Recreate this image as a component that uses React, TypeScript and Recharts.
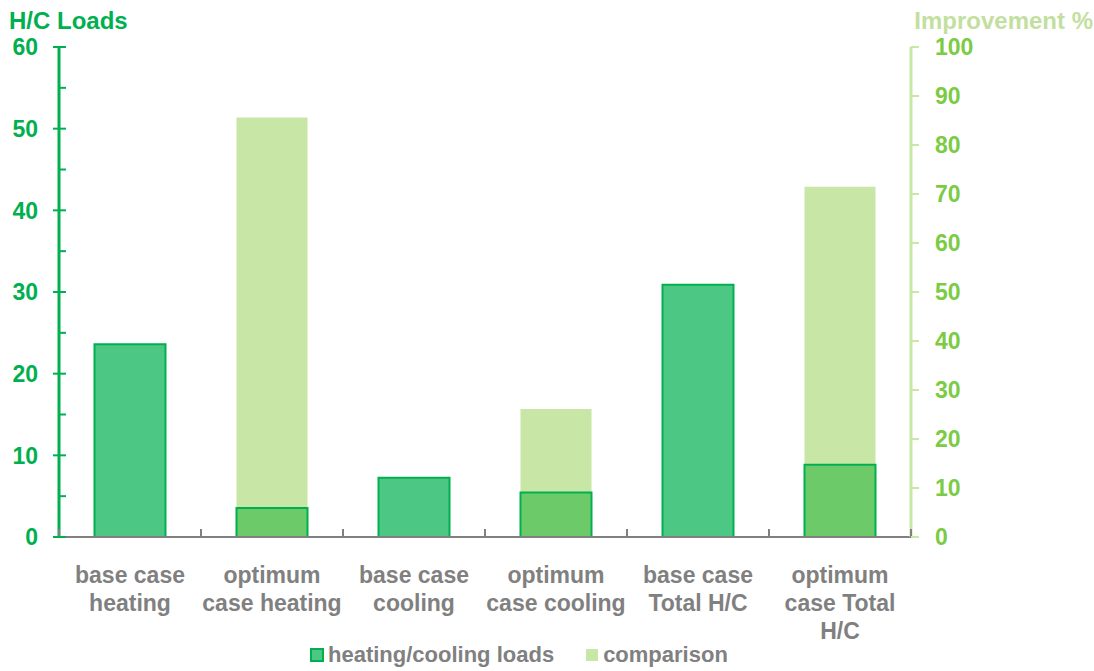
import React from "react";
import { ComposedChart, Bar, XAxis, YAxis, Cell, Legend } from "recharts";

const categories = [
  "base case heating",
  "optimum case heating",
  "base case cooling",
  "optimum case cooling",
  "base case Total H/C",
  "optimum case Total H/C",
];
const categoryLines = [
  ["base case", "heating"],
  ["optimum", "case heating"],
  ["base case", "cooling"],
  ["optimum", "case cooling"],
  ["base case", "Total H/C"],
  ["optimum", "case Total", "H/C"],
];
const caseTypes = ["base", "optimum", "base", "optimum", "base", "optimum"];
const loads = [23.6, 3.55, 7.25, 5.45, 30.9, 8.85];
const comparison = [null, 85.6, null, 26.1, null, 71.5];
const leftTicks = [0, 5, 10, 15, 20, 25, 30, 35, 40, 45, 50, 55, 60];
const rightTicks = [0, 10, 20, 30, 40, 50, 60, 70, 80, 90, 100];

const data = categories.map((c, i) => ({
  category: c,
  loads: loads[i],
  comparison: comparison[i],
}));

const FONT = "'Liberation Sans', Arial, sans-serif";
const GREEN = "#00B050";
const BASE_FILL = "#4CC784";
const OPT_FILL = "#6CCB68";
const COMP_FILL = "#C8E6A5";
const RIGHT_TEXT = "#7CCB45";
const TITLE_RIGHT = "#C3DFA0";
const GRAY = "#808080";

const W = 1094;
const H = 671;
const LEFT_W = 59;
const RIGHT_W = 183;
const PLOT_W = W - LEFT_W - RIGHT_W;
const BAND = PLOT_W / categories.length;

const LeftTick = (props: any) => {
  const { x, y, payload } = props;
  const v = payload.value;
  if (v % 10 === 0) {
    return (
      <g>
        <line x1={x - 6} x2={x + 7} y1={y} y2={y} stroke={GREEN} strokeWidth={2} />
        <text x={x - 21} y={y} dy="0.36em" textAnchor="end" fill={GREEN}
          style={{ fontFamily: FONT, fontWeight: 700, fontSize: 23 }}>{v}</text>
      </g>
    );
  }
  return <line x1={x} x2={x + 7} y1={y} y2={y} stroke={GREEN} strokeWidth={2} />;
};

const RightTick = (props: any) => {
  const { x, y, payload } = props;
  return (
    <g>
      <line x1={x} x2={x + 8} y1={y} y2={y} stroke={COMP_FILL} strokeWidth={2} />
      <text x={x + 24} y={y} dy="0.36em" textAnchor="start" fill={RIGHT_TEXT}
        style={{ fontFamily: FONT, fontWeight: 700, fontSize: 23 }}>{payload.value}</text>
    </g>
  );
};

const XTick = (props: any) => {
  const { x, y, index } = props;
  const lines = categoryLines[index] || [];
  return (
    <g>
      <line x1={x - BAND / 2} x2={x - BAND / 2} y1={y} y2={y - 8} stroke={GRAY} strokeWidth={2} />
      {index === categories.length - 1 && (
        <line x1={x + BAND / 2} x2={x + BAND / 2} y1={y} y2={y - 8} stroke={GRAY} strokeWidth={2} />
      )}
      <text x={x} y={y + 46} textAnchor="middle" fill={GRAY}
        style={{ fontFamily: FONT, fontWeight: 700, fontSize: 23 }}>
        {lines.map((l, i) => (
          <tspan key={i} x={x} dy={i === 0 ? 0 : 28}>{l}</tspan>
        ))}
      </text>
    </g>
  );
};

const LegendContent = () => (
  <div style={{ display: "flex", alignItems: "center", marginLeft: 310, fontFamily: FONT, fontWeight: 700, fontSize: 22, color: GRAY, height: 24 }}>
    <span style={{ width: 10, height: 10, background: BASE_FILL, border: `2px solid ${GREEN}`, display: "inline-block", marginRight: 4 }} />
    <span>heating/cooling loads</span>
    <span style={{ width: 12, height: 12, background: COMP_FILL, display: "inline-block", marginLeft: 32, marginRight: 5 }} />
    <span>comparison</span>
  </div>
);

export default function App() {
  return (
    <div style={{ position: "absolute", left: 0, top: 0, width: W, height: H, background: "#fff" }}>
      <ComposedChart
        width={W}
        height={H}
        data={data}
        margin={{ top: 47, right: 0, bottom: 4, left: 0 }}
        barCategoryGap="25%"
      >
        <XAxis
          xAxisId="a"
          dataKey="category"
          interval={0}
          tick={<XTick />}
          tickLine={false}
          tickSize={0}
          tickMargin={0}
          height={106}
          axisLine={{ stroke: GRAY, strokeWidth: 2 }}
        />
        <XAxis xAxisId="b" dataKey="category" hide />
        <YAxis
          yAxisId="left"
          orientation="left"
          domain={[0, 60]}
          ticks={leftTicks}
          interval={0}
          width={LEFT_W}
          tick={<LeftTick />}
          tickLine={false}
          tickSize={0}
          tickMargin={0}
          axisLine={{ stroke: GREEN, strokeWidth: 3 }}
          label={{
            content: () => (
              <text x={9} y={29} fill={GREEN} style={{ fontFamily: FONT, fontWeight: 700, fontSize: 24 }}>H/C Loads</text>
            ),
          }}
        />
        <YAxis
          yAxisId="right"
          orientation="right"
          domain={[0, 100]}
          ticks={rightTicks}
          interval={0}
          width={RIGHT_W}
          tick={<RightTick />}
          tickLine={false}
          tickSize={0}
          tickMargin={0}
          axisLine={{ stroke: COMP_FILL, strokeWidth: 3 }}
          label={{
            content: () => (
              <text x={1093} y={29} textAnchor="end" fill={TITLE_RIGHT} style={{ fontFamily: FONT, fontWeight: 700, fontSize: 24 }}>Improvement %</text>
            ),
          }}
        />
        <Legend verticalAlign="bottom" content={<LegendContent />} wrapperStyle={{ height: 24, left: 0, width: W }} />
        <Bar
          xAxisId="b"
          yAxisId="right"
          dataKey="comparison"
          name="comparison"
          fill={COMP_FILL}
          isAnimationActive={false}
        />
        <Bar
          xAxisId="a"
          yAxisId="left"
          dataKey="loads"
          name="heating/cooling loads"
          stroke={GREEN}
          strokeWidth={2}
          isAnimationActive={false}
        >
          {data.map((d, i) => (
            <Cell key={i} fill={caseTypes[i] === "base" ? BASE_FILL : OPT_FILL} stroke={GREEN} strokeWidth={2} />
          ))}
        </Bar>
      </ComposedChart>
    </div>
  );
}
